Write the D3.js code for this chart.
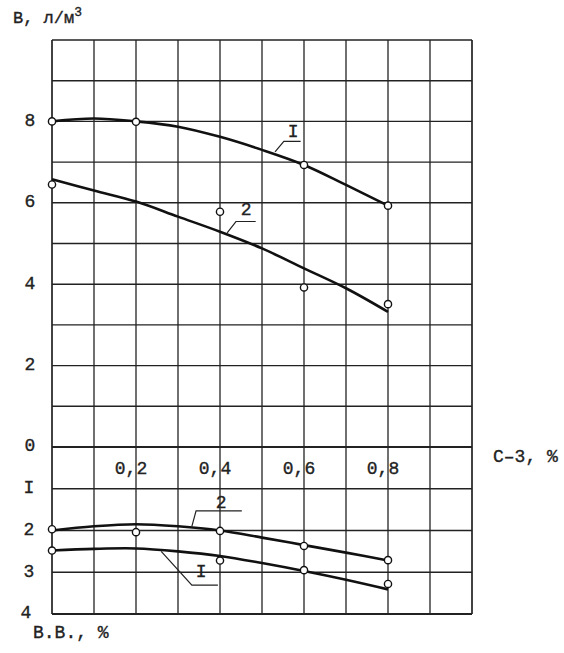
<!DOCTYPE html>
<html>
<head>
<meta charset="utf-8">
<script src="https://cdn.jsdelivr.net/npm/d3@7"></script>
<style>
  body { margin: 0; background: #fff; }
  svg text { font-family: "Liberation Mono", "DejaVu Sans Mono", monospace; fill: #222; stroke: #222; stroke-width: 0.35px; }
</style>
</head>
<body>
<div id="chart"></div>
<script>
// C-3 dosage, %
let cx = [0, 0.1, 0.2, 0.3, 0.4, 0.5, 0.6, 0.7, 0.8];
// water reduction, l/m3 (upper field) - smoothed curves
let water1 = [8.0, 8.07, 8.0, 7.87, 7.62, 7.30, 6.93, 6.44, 5.93];
let water2 = [6.58, 6.30, 6.03, 5.66, 5.29, 4.88, 4.39, 3.90, 3.32];
// air entrainment, % (lower field, downward)
let air2 = [2.0, 1.9, 1.85, 1.9, 2.0, 2.17, 2.35, 2.53, 2.72];
let air1 = [2.48, 2.44, 2.43, 2.5, 2.61, 2.78, 2.97, 3.18, 3.41];

// measured points
let pWater1 = [[0, 8.0], [0.2, 7.99], [0.6, 6.93], [0.8, 5.93]];
let pWater2 = [[0, 6.45], [0.4, 5.78], [0.6, 3.92], [0.8, 3.51]];
let pAir2 = [[0, 1.97], [0.2, 2.04], [0.4, 2.01], [0.6, 2.37], [0.8, 2.71]];
let pAir1 = [[0, 2.48], [0.4, 2.72], [0.6, 2.95], [0.8, 3.28]];

let xGrid = [0, 0.1, 0.2, 0.3, 0.4, 0.5, 0.6, 0.7, 0.8, 0.9, 1.0];
let topGrid = [0, 1, 2, 3, 4, 5, 6, 7, 8, 9, 10];
let botGrid = [1, 2, 3, 4];
let xTicks = [0.2, 0.4, 0.6, 0.8];
let topTicks = [0, 2, 4, 6, 8];
let botTicks = [1, 2, 3, 4];
let botTickText = {1: "I", 2: "2", 3: "3", 4: "4"};

const width = 564, height = 653;

let x = d3.scaleLinear().domain([0, 1]).range([52, 472]);
let yTop = d3.scaleLinear().domain([0, 10]).range([447, 40]);
let yBot = d3.scaleLinear().domain([0, 4]).range([447, 614]);

const svg = d3.select("#chart")
  .append("svg")
  .attr("width", width)
  .attr("height", height);

// grid
svg.append("g").selectAll("line")
  .data(xGrid)
  .enter()
  .append("line")
  .attr("x1", d => x(d)).attr("x2", d => x(d))
  .attr("y1", yTop(10)).attr("y2", yBot(4))
  .attr("stroke", "#222")
  .attr("stroke-width", (d) => d == 0 || d == 1 ? 1.7 : 1.3);

svg.append("g").selectAll("line")
  .data(topGrid)
  .enter()
  .append("line")
  .attr("x1", x(0)).attr("x2", x(1))
  .attr("y1", d => yTop(d)).attr("y2", d => yTop(d))
  .attr("stroke", "#222")
  .attr("stroke-width", (d) => d == 0 ? 2.2 : (d == 10 ? 1.7 : 1.4));

svg.append("g").selectAll("line")
  .data(botGrid)
  .enter()
  .append("line")
  .attr("x1", x(0)).attr("x2", x(1))
  .attr("y1", d => yBot(d)).attr("y2", d => yBot(d))
  .attr("stroke", "#222")
  .attr("stroke-width", (d) => d == 4 ? 1.8 : 1.4);

// tick labels
svg.append("g").selectAll("text")
  .data(topTicks)
  .enter()
  .append("text")
  .text(d => d)
  .attr("x", 30)
  .attr("y", d => yTop(d) - 2)
  .attr("dy", "0.35em")
  .attr("text-anchor", "middle")
  .style("font-size", "18px");

svg.append("g").selectAll("text")
  .data(botTicks)
  .enter()
  .append("text")
  .text(d => botTickText[d])
  .attr("x", (d) => d == 4 ? 26 : 29)
  .attr("y", d => yBot(d) - 2)
  .attr("dy", "0.35em")
  .attr("text-anchor", "middle")
  .style("font-size", "18px");

svg.append("g").selectAll("text")
  .data(xTicks)
  .enter()
  .append("text")
  .text(d => d3.format(".1f")(d).replace(".", ","))
  .attr("x", d => x(d) - 5)
  .attr("y", yBot(0.65))
  .attr("text-anchor", "middle")
  .style("font-size", "18px");

// axis titles
let yTitle = svg.append("text")
  .attr("x", 13)
  .attr("y", 23)
  .style("font-size", "17px");
yTitle.append("tspan").text("В, л/м");
yTitle.append("tspan").text("3").attr("dy", -7).style("font-size", "13px");

svg.append("text")
  .text("С–3, %")
  .attr("x", 493)
  .attr("y", 462)
  .style("font-size", "18px");

svg.append("text")
  .text("В.В., %")
  .attr("x", 33)
  .attr("y", 638)
  .style("font-size", "18px");

// curves
let lineTop = d3.line()
  .x((d, i) => x(cx[i]))
  .y(d => yTop(d))
  .curve(d3.curveCatmullRom);
let lineBot = d3.line()
  .x((d, i) => x(cx[i]))
  .y(d => yBot(d))
  .curve(d3.curveCatmullRom);

[water1, water2].forEach(function(s) {
  svg.append("path")
    .attr("d", lineTop(s))
    .attr("fill", "none")
    .attr("stroke", "#111")
    .attr("stroke-width", 2.6);
});
[air1, air2].forEach(function(s) {
  svg.append("path")
    .attr("d", lineBot(s))
    .attr("fill", "none")
    .attr("stroke", "#111")
    .attr("stroke-width", 2.6);
});

// points
function dots(pts, y) {
  svg.append("g").selectAll("circle")
    .data(pts)
    .enter()
    .append("circle")
    .attr("cx", d => x(d[0]))
    .attr("cy", d => y(d[1]))
    .attr("r", 3.6)
    .attr("fill", "#fff")
    .attr("stroke", "#111")
    .attr("stroke-width", 1.4);
}
dots(pWater1, yTop);
dots(pWater2, yTop);
dots(pAir2, yBot);
dots(pAir1, yBot);

// curve labels with leaders: text pos, underline, leader end (data units)
let labels = [
  {t: "I", y: yTop, tx: 0.574, ty: 7.62, ux1: 0.552, ux2: 0.592, uy: 7.51, ex: 0.531, ey: 7.25},
  {t: "2", y: yTop, tx: 0.462, ty: 5.70, ux1: 0.438, ux2: 0.485, uy: 5.54, ex: 0.417, ey: 5.26},
  {t: "2", y: yBot, tx: 0.403, ty: 1.46, ux1: 0.343, ux2: 0.452, uy: 1.53, ex: 0.333, ey: 1.90},
  {t: "I", y: yBot, tx: 0.355, ty: 3.11, ux1: 0.333, ux2: 0.395, uy: 3.31, ex: 0.26, ey: 2.50}
];
labels.forEach(function(l) {
  svg.append("text")
    .text(l.t)
    .attr("x", x(l.tx))
    .attr("y", l.y(l.ty))
    .attr("text-anchor", "middle")
    .style("font-size", "18px");
  svg.append("path")
    .attr("d", "M" + x(l.ux2) + "," + l.y(l.uy) + "L" + x(l.ux1) + "," + l.y(l.uy) +
               "L" + x(l.ex) + "," + l.y(l.ey))
    .attr("fill", "none")
    .attr("stroke", "#222")
    .attr("stroke-width", 1.2);
});
</script>
</body>
</html>
